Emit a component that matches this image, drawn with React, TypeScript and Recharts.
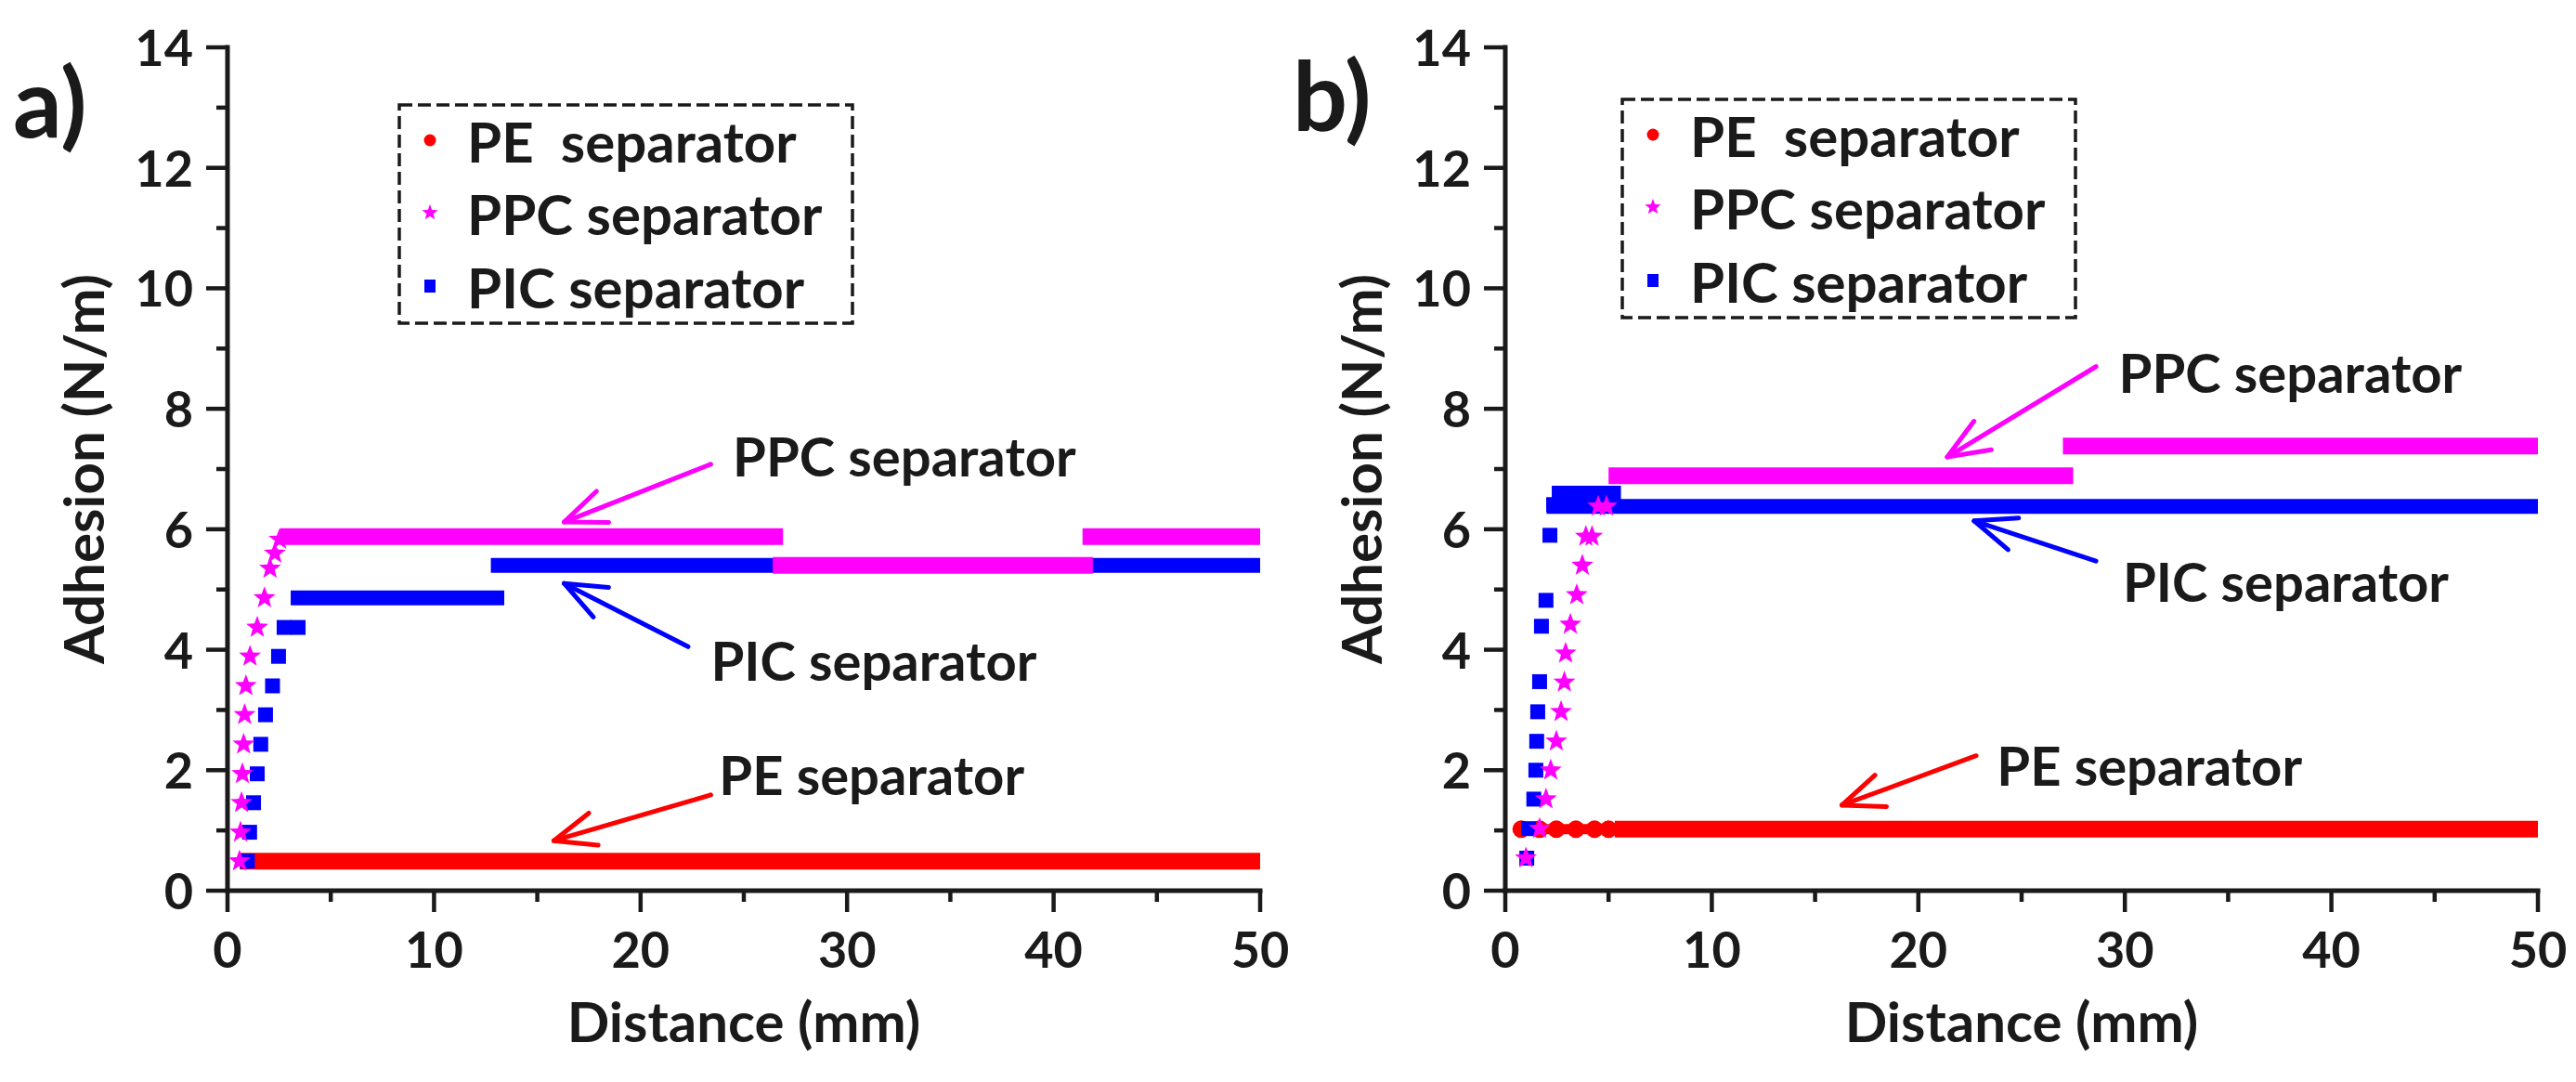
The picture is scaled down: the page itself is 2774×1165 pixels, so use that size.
import React from "react"
import { ComposedChart, Line, Scatter, XAxis, YAxis, ReferenceLine, ReferenceDot, Label } from "recharts"

const W = 2774
const H = 1165
const PANEL_W = 1387

const RED = "#ff0000"
const MAGENTA = "#ff00ff"
const BLUE = "#0000ff"
const INK = "#1a1a1a"
const FONT = "Lato, 'Open Sans', sans-serif"

// axes
const X_TICKS = [0, 5, 10, 15, 20, 25, 30, 35, 40, 45, 50]
const X_LABELS = [0, 10, 20, 30, 40, 50]
const Y_TICKS = [0, 1, 2, 3, 4, 5, 6, 7, 8, 9, 10, 11, 12, 13, 14]
const Y_LABELS = [0, 2, 4, 6, 8, 10, 12, 14]

const SERIES_NAMES = ["PE\u00a0 separator", "PPC separator", "PIC separator"]

// panel a) — rising markers [distance, adhesion] and plateaus [from, to, adhesion]
const A_PE_STEPS: number[][] = [[0.6, 50, 0.49]]
const A_PPC_RISE: number[][] = [
  [0.58, 0.49], [0.63, 0.97], [0.68, 1.46], [0.72, 1.94], [0.78, 2.43], [0.83, 2.92], [0.89, 3.4],
  [1.09, 3.89], [1.44, 4.37], [1.79, 4.86], [2.06, 5.35], [2.29, 5.6], [2.52, 5.83],
]
const A_PPC_STEPS: number[][] = [[2.55, 26.9, 5.88], [26.4, 41.9, 5.4], [41.4, 50, 5.88]]
const A_PIC_RISE: number[][] = [
  [0.96, 0.49], [1.07, 0.97], [1.26, 1.46], [1.44, 1.94], [1.61, 2.43], [1.84, 2.92], [2.18, 3.4],
  [2.47, 3.89], [2.74, 4.37], [3.42, 4.37],
]
const A_PIC_STEPS: number[][] = [[3.06, 13.4, 4.86], [12.75, 50, 5.4]]

// panel b)
const B_PE_RISE: number[][] = [[0.77, 1.02], [1.66, 1.02], [2.47, 1.02], [3.42, 1.02], [4.32, 1.02], [5.0, 1.02]]
const B_PE_TRACE: number[][] = [[0.77, 5.3, 1.02]]
const B_PE_STEPS: number[][] = [[5.3, 50, 1.02]]
const B_PPC_RISE: number[][] = [
  [1.0, 0.54], [1.66, 1.03], [1.97, 1.52], [2.2, 2.0], [2.47, 2.48], [2.7, 2.97], [2.86, 3.46],
  [2.92, 3.94], [3.15, 4.42], [3.46, 4.91], [3.73, 5.4], [3.9, 5.88], [4.2, 5.88], [4.5, 6.38], [4.9, 6.38],
]
const B_PPC_STEPS: number[][] = [[5.0, 27.5, 6.89], [27.0, 50, 7.38]]
const B_PIC_RISE: number[][] = [
  [1.04, 0.54], [1.13, 1.03], [1.38, 1.52], [1.48, 2.0], [1.52, 2.48], [1.57, 2.97], [1.66, 3.47],
  [1.75, 4.39], [1.97, 4.82], [2.16, 5.9], [2.34, 6.41],
]
const B_PIC_STEPS: number[][] = [[2.0, 50, 6.38], [2.25, 5.6, 6.6]]

// annotations: label, arrow start, arrow tip, text anchor (all in data units)
const A_NOTES = [
  { label: "PPC separator", color: MAGENTA, from: [23.4, 7.08], to: [16.3, 6.12], at: [24.46, 6.88] },
  { label: "PIC separator", color: BLUE, from: [22.3, 4.05], to: [16.3, 5.1], at: [23.4, 3.48] },
  { label: "PE separator", color: RED, from: [23.4, 1.59], to: [15.8, 0.83], at: [23.8, 1.59] },
]
const B_NOTES = [
  { label: "PPC separator", color: MAGENTA, from: [28.6, 8.7], to: [21.4, 7.2], at: [29.7, 8.26] },
  { label: "PIC separator", color: BLUE, from: [28.6, 5.47], to: [22.7, 6.14], at: [29.9, 4.79] },
  { label: "PE separator", color: RED, from: [22.8, 2.24], to: [16.3, 1.42], at: [23.8, 1.74] },
]

const toPoints = (rows: number[][]) => rows.map(([x, y]) => ({ x, y }))
const toSegment = ([x0, x1, y]: number[]) => [{ x: x0, y }, { x: x1, y }]

function starPoints(cx: number, cy: number, R: number, r: number) {
  const pts: string[] = []
  for (let i = 0; i < 10; i++) {
    const a = -Math.PI / 2 + (i * Math.PI) / 5
    const rad = i % 2 === 0 ? R : r
    pts.push(`${cx + rad * Math.cos(a)},${cy + rad * Math.sin(a)}`)
  }
  return pts.join(" ")
}

const Star = (p: any) => <polygon points={starPoints(p.cx, p.cy, 12.5, 5.2)} fill={MAGENTA} />
const Square = (p: any) => <rect x={p.cx - 8} y={p.cy - 8} width={16} height={16} fill={BLUE} />
const Dot = (p: any) => <circle cx={p.cx} cy={p.cy} r={9.5} fill={RED} />

const renderXTick = (p: any) => {
  const v = p.payload.value
  const major = X_LABELS.includes(v)
  return (
    <g>
      <line x1={p.x} y1={p.y} x2={p.x} y2={p.y + (major ? 23 : 12)} stroke={INK} strokeWidth={4.5} />
      {major && (
        <text x={p.x} y={p.y + 83} textAnchor="middle" fontFamily={FONT} fontWeight={700} fontSize={54} fill={INK}>
          {v}
        </text>
      )}
    </g>
  )
}

const renderYTick = (p: any) => {
  const v = p.payload.value
  const major = Y_LABELS.includes(v)
  return (
    <g>
      <line x1={p.x - (major ? 23 : 12)} y1={p.y} x2={p.x} y2={p.y} stroke={INK} strokeWidth={4.5} />
      {major && (
        <text x={p.x - 37} y={p.y + 20} textAnchor="end" fontFamily={FONT} fontWeight={700} fontSize={54} fill={INK}>
          {v}
        </text>
      )}
    </g>
  )
}

const arrowShape = (color: string) => (p: any) => {
  const { x1, y1, x2, y2 } = p
  const ang = Math.atan2(y1 - y2, x1 - x2)
  const L = 48
  const s = (22 * Math.PI) / 180
  const w1 = [x2 + L * Math.cos(ang + s), y2 + L * Math.sin(ang + s)]
  const w2 = [x2 + L * Math.cos(ang - s), y2 + L * Math.sin(ang - s)]
  return (
    <g>
      <line x1={x1} y1={y1} x2={x2} y2={y2} stroke={color} strokeWidth={5} strokeLinecap="round" />
      <polyline
        points={`${w1[0]},${w1[1]} ${x2},${y2} ${w2[0]},${w2[1]}`}
        fill="none"
        stroke={color}
        strokeWidth={5}
        strokeLinecap="round"
        strokeLinejoin="round"
      />
    </g>
  )
}

const noteText = (label: string) => (p: any) => (
  <text x={p.cx} y={p.cy} fontFamily={FONT} fontWeight={700} fontSize={58} fill={INK}>
    {label}
  </text>
)

interface PanelProps {
  left: number
  yAxisWidth: number
  rightMargin: number
  pe: number[][]
  peTrace?: number[][]
  peRise?: number[][]
  ppc: number[][]
  ppcRise: number[][]
  pic: number[][]
  picRise: number[][]
  notes: typeof A_NOTES
}

function Panel(props: PanelProps) {
  const { yAxisWidth } = props
  const axisLine = { stroke: INK, strokeWidth: 5, strokeLinecap: "square" as const }
  return (
    <div style={{ position: "absolute", left: props.left, top: 0, width: PANEL_W, height: H }}>
      <ComposedChart width={PANEL_W} height={H} margin={{ top: 51, right: props.rightMargin, bottom: 0, left: 0 }}>
        <XAxis
          xAxisId={0}
          dataKey="x"
          type="number"
          domain={[0, 50]}
          ticks={X_TICKS}
          interval={0}
          height={206}
          tickSize={0}
          tickMargin={0}
          tickLine={false}
          axisLine={axisLine}
          tick={renderXTick}
          allowDataOverflow
        >
          <Label
            content={(lp: any) => {
              const vb = lp.viewBox
              return (
                <text x={vb.x + vb.width / 2} y={vb.y + 163} textAnchor="middle" fontFamily={FONT} fontWeight={700} fontSize={60} fill={INK}>
                  Distance (mm)
                </text>
              )
            }}
          />
        </XAxis>
        <XAxis xAxisId="top" orientation="top" type="number" domain={[0, 50]} height={0} tick={false} tickLine={false} axisLine={axisLine} />
        <YAxis
          yAxisId={0}
          dataKey="y"
          type="number"
          domain={[0, 14]}
          ticks={Y_TICKS}
          interval={0}
          width={yAxisWidth}
          tickSize={0}
          tickMargin={0}
          tickLine={false}
          axisLine={axisLine}
          tick={renderYTick}
          allowDataOverflow
        >
          <Label
            content={(lp: any) => {
              const vb = lp.viewBox
              const x = vb.x + vb.width - 133
              const y = vb.y + vb.height / 2
              return (
                <text x={x} y={y} transform={`rotate(-90 ${x} ${y})`} textAnchor="middle" fontFamily={FONT} fontWeight={700} fontSize={60} fill={INK}>
                  Adhesion (N/m)
                </text>
              )
            }}
          />
        </YAxis>
        <YAxis yAxisId="right" orientation="right" type="number" domain={[0, 14]} width={0} tick={false} tickLine={false} axisLine={axisLine} />

        {(props.peTrace || []).map((s, i) => (
          <Line key={`pet${i}`} data={toSegment(s)} dataKey="y" stroke={RED} strokeWidth={11} dot={false} activeDot={false} isAnimationActive={false} />
        ))}
        {props.pe.map((s, i) => (
          <Line key={`pe${i}`} data={toSegment(s)} dataKey="y" stroke={RED} strokeWidth={18} dot={false} activeDot={false} isAnimationActive={false} />
        ))}
        {props.peRise && <Scatter data={toPoints(props.peRise)} dataKey="y" shape={Dot} isAnimationActive={false} />}
        {props.pic.map((s, i) => (
          <Line key={`pic${i}`} data={toSegment(s)} dataKey="y" stroke={BLUE} strokeWidth={16} dot={false} activeDot={false} isAnimationActive={false} />
        ))}
        <Scatter data={toPoints(props.picRise)} dataKey="y" shape={Square} isAnimationActive={false} />
        {props.ppc.map((s, i) => (
          <Line key={`ppc${i}`} data={toSegment(s)} dataKey="y" stroke={MAGENTA} strokeWidth={18} dot={false} activeDot={false} isAnimationActive={false} />
        ))}
        <Scatter data={toPoints(props.ppcRise)} dataKey="y" shape={Star} isAnimationActive={false} />

        {props.notes.map((n) => (
          <ReferenceLine
            key={`arrow-${n.label}`}
            segment={[{ x: n.from[0], y: n.from[1] }, { x: n.to[0], y: n.to[1] }]}
            shape={arrowShape(n.color)}
          />
        ))}
        {props.notes.map((n) => (
          <ReferenceDot key={`text-${n.label}`} x={n.at[0]} y={n.at[1]} r={0} shape={noteText(n.label)} />
        ))}
      </ComposedChart>
    </div>
  )
}

function LegendBox({ x, y }: { x: number; y: number }) {
  const rows = [62, 140, 219]
  const mx = x + 33
  return (
    <g>
      <rect x={x} y={y} width={488} height={235} fill="none" stroke={INK} strokeWidth={3.5} strokeDasharray="14 6" />
      <circle cx={mx} cy={y + rows[0] - 24} r={6.5} fill={RED} />
      <polygon points={starPoints(mx, y + rows[1] - 24, 9, 3.8)} fill={MAGENTA} />
      <rect x={mx - 6} y={y + rows[2] - 31} width={12} height={14} fill={BLUE} />
      {SERIES_NAMES.map((name, i) => (
        <text key={name} x={x + 73} y={y + rows[i]} fontFamily={FONT} fontWeight={700} fontSize={60} fill={INK} style={{ whiteSpace: "pre" }}>
          {name}
        </text>
      ))}
    </g>
  )
}

export default function App() {
  return (
    <div style={{ position: "absolute", left: 0, top: 0, width: W, height: H, background: "#fff" }}>
      <Panel
        left={0}
        yAxisWidth={245}
        rightMargin={30}
        pe={A_PE_STEPS}
        ppc={A_PPC_STEPS}
        ppcRise={A_PPC_RISE}
        pic={A_PIC_STEPS}
        picRise={A_PIC_RISE}
        notes={A_NOTES}
      />
      <Panel
        left={PANEL_W}
        yAxisWidth={234}
        rightMargin={41}
        pe={B_PE_STEPS}
        peTrace={B_PE_TRACE}
        peRise={B_PE_RISE}
        ppc={B_PPC_STEPS}
        ppcRise={B_PPC_RISE}
        pic={B_PIC_STEPS}
        picRise={B_PIC_RISE}
        notes={B_NOTES}
      />
      <svg width={W} height={H} style={{ position: "absolute", left: 0, top: 0, pointerEvents: "none" }}>
        <text x={14} y={148} fontFamily={FONT} fontWeight={700} fontSize={104} fill={INK}>a)</text>
        <text x={1392} y={141} fontFamily={FONT} fontWeight={700} fontSize={104} fill={INK}>b)</text>
        <LegendBox x={430} y={113} />
        <LegendBox x={1747} y={107} />
      </svg>
    </div>
  )
}
